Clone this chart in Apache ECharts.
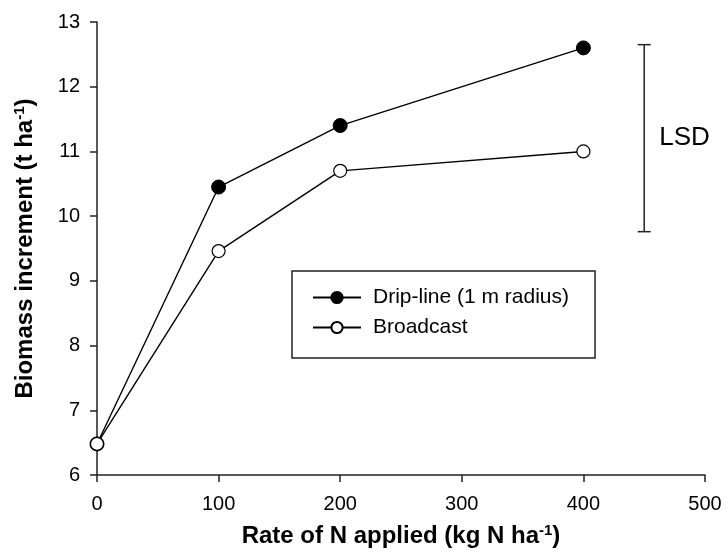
<!DOCTYPE html>
<html>
<head>
<meta charset="utf-8">
<script src="https://cdn.jsdelivr.net/npm/echarts@6/dist/echarts.min.js"></script>
<style>html,body{margin:0;padding:0;background:#fff;}#chart{width:726px;height:555px;}</style>
</head>
<body>
<div id="chart"></div>
<script>
// ---- data ----
var nRates = [0, 100, 200, 400];
var dripLine = [6.48, 10.45, 11.40, 12.60];
var broadcast = [6.48, 9.46, 10.70, 11.00];
var seriesNames = ['Drip-line (1 m radius)', 'Broadcast'];
var lsdX = 450;
var lsdLow = 9.76;
var lsdHigh = 12.65;
var lsdLabel = 'LSD';
var xTicks = [0, 100, 200, 300, 400, 500];
var yTicks = [6, 7, 8, 9, 10, 11, 12, 13];

function pairs(xs, ys) { return xs.map(function (x, i) { return [x, ys[i]]; }); }

var FONT = '"Liberation Sans", Arial, sans-serif';
var chart = echarts.init(document.getElementById('chart'), null, {renderer: 'canvas'});

chart.setOption({
  animation: false,
  backgroundColor: '#fff',
  textStyle: {fontFamily: FONT, color: '#000'},
  grid: {left: 97, right: 21, top: 22, bottom: 75, containLabel: false},
  xAxis: {
    type: 'value', min: xTicks[0], max: xTicks[xTicks.length - 1], interval: 100,
    splitLine: {show: false},
    axisLine: {onZero: false, lineStyle: {color: '#222', width: 1.5}},
    axisTick: {length: 7, lineStyle: {color: '#222', width: 1.5}},
    axisLabel: {fontSize: 20, color: '#000', margin: 19, fontFamily: FONT},
    name: '{a|Rate of N applied (kg N ha}{s|-1}{a|)}',
    nameLocation: 'middle', nameGap: 48,
    nameTextStyle: {
      rich: {
        a: {fontSize: 24, fontWeight: 'bold', color: '#000', fontFamily: FONT, lineHeight: 27},
        s: {fontSize: 15, fontWeight: 'bold', color: '#000', fontFamily: FONT, padding: [0, 0, 12, 0], lineHeight: 27}
      }
    }
  },
  yAxis: {
    type: 'value', min: yTicks[0], max: yTicks[yTicks.length - 1], interval: 1,
    splitLine: {show: false},
    axisLine: {onZero: false, lineStyle: {color: '#222', width: 1.5}},
    axisTick: {length: 7, lineStyle: {color: '#222', width: 1.5}},
    axisLabel: {fontSize: 20, color: '#000', margin: 17, fontFamily: FONT},
    name: '{a|Biomass increment (t ha}{s|-1}{a|)}',
    nameLocation: 'middle', nameGap: 58, nameRotate: 90,
    nameTextStyle: {
      rich: {
        a: {fontSize: 24, fontWeight: 'bold', color: '#000', fontFamily: FONT, lineHeight: 27},
        s: {fontSize: 15, fontWeight: 'bold', color: '#000', fontFamily: FONT, padding: [0, 0, 12, 0], lineHeight: 27}
      }
    }
  },
  legend: {
    orient: 'vertical', left: 292, top: 271,
    padding: [16, 26, 20, 20],
    borderColor: '#222', borderWidth: 1.5,
    itemWidth: 48, itemHeight: 14, itemGap: 9,
    textStyle: {fontSize: 21, color: '#000', fontFamily: FONT, padding: [0, 0, 0, 7]},
    data: seriesNames
  },
  series: [
    {
      name: seriesNames[0], type: 'line', data: pairs(nRates, dripLine),
      symbol: 'circle', symbolSize: 14,
      lineStyle: {color: '#000', width: 1.4},
      itemStyle: {color: '#000', borderColor: '#000', borderWidth: 1}
    },
    {
      name: seriesNames[1], type: 'line', data: pairs(nRates, broadcast),
      symbol: 'circle', symbolSize: 13,
      lineStyle: {color: '#000', width: 1.4},
      itemStyle: {color: '#fff', borderColor: '#000', borderWidth: 1.2}
    },
    {
      name: 'lsd', type: 'custom', silent: true,
      data: [[lsdX, lsdLow, lsdHigh]],
      renderItem: function (params, api) {
        var top = api.coord([api.value(0), api.value(2)]);
        var bot = api.coord([api.value(0), api.value(1)]);
        var mid = api.coord([api.value(0), (api.value(1) + api.value(2)) / 2]);
        var w = 6.5;
        var st = {stroke: '#222', lineWidth: 1.5};
        return {
          type: 'group',
          children: [
            {type: 'line', shape: {x1: top[0], y1: top[1], x2: bot[0], y2: bot[1]}, style: st},
            {type: 'line', shape: {x1: top[0] - w, y1: top[1], x2: top[0] + w, y2: top[1]}, style: st},
            {type: 'line', shape: {x1: bot[0] - w, y1: bot[1], x2: bot[0] + w, y2: bot[1]}, style: st},
            {type: 'text', x: mid[0] + 15, y: mid[1], style: {text: lsdLabel, fontSize: 26, fontFamily: FONT, fill: '#000', verticalAlign: 'middle', align: 'left'}}
          ]
        };
      }
    }
  ]
});
</script>
</body>
</html>
